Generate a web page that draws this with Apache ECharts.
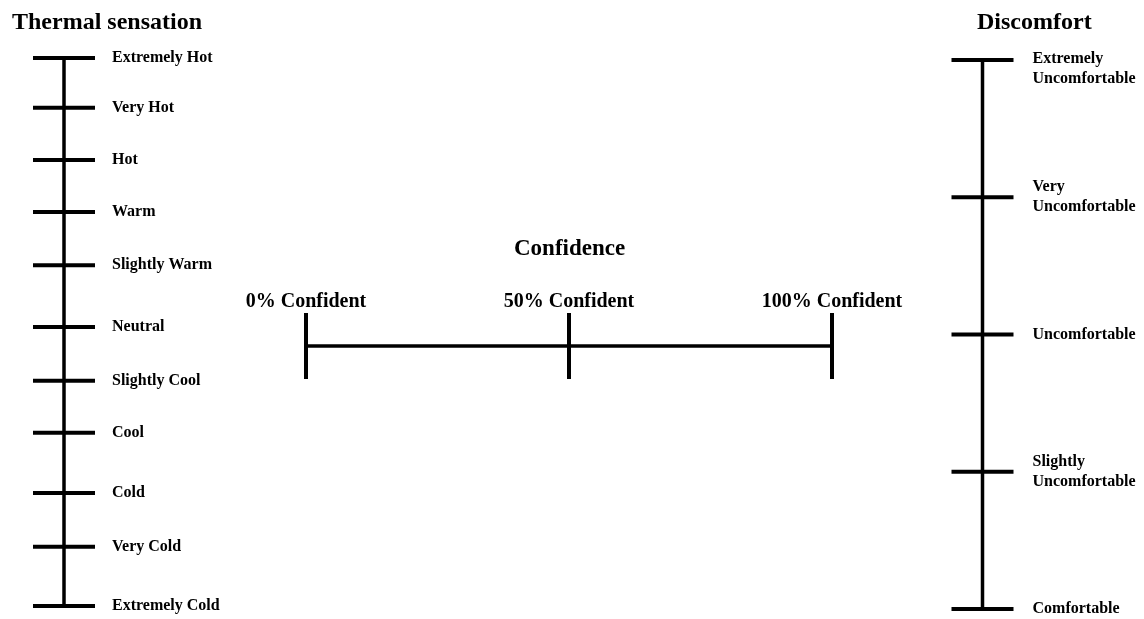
<!DOCTYPE html>
<html>
<head>
<meta charset="utf-8">
<title>Rating scales</title>
<script src="https://cdn.jsdelivr.net/npm/echarts@6/dist/echarts.min.js"></script>
<style>
	html, body { margin: 0; padding: 0; background: #fff; }
	#chart { width: 1144px; height: 619px; }
</style>
</head>
<body>
<div id="chart"></div>
<script>
// Thermal sensation scale, top to bottom (position on the scale: 0 = bottom tick, 100 = top tick)
const thermalLabels = ['Extremely Hot', 'Very Hot', 'Hot', 'Warm', 'Slightly Warm', 'Neutral', 'Slightly Cool', 'Cool', 'Cold', 'Very Cold', 'Extremely Cold']
const thermalValues = [100, 90.9, 81.4, 71.9, 62.2, 50.9, 41.1, 31.6, 20.6, 10.8, 0]

// Confidence scale, left to right
const confidenceLabels = ['0% Confident', '50% Confident', '100% Confident']
const confidenceValues = [0, 50, 100]

// Discomfort scale, top to bottom
const discomfortLabels = ['Extremely\nUncomfortable', 'Very\nUncomfortable', 'Uncomfortable', 'Slightly\nUncomfortable', 'Comfortable']
const discomfortValues = [100, 75, 50, 25, 0]

const FONT = 'Liberation Serif, Times New Roman, serif'
const INK = '#000'

const chart = echarts.init(document.getElementById('chart'))

const textStyle = (size) => ({
	fontFamily: FONT,
	fontWeight: 'bold',
	fontSize: size,
	color: '#000'
})

// vertical scale: one spine + a crossing tick for each level
// topShift pushes the label of the top tick down a bit (two-line label)
const verticalScale = (idx, labels, values, labelDist, topShift) => [
	{
		type: 'line',
		xAxisIndex: idx,
		yAxisIndex: idx,
		data: [[0, Math.min(...values)], [0, Math.max(...values)]],
		showSymbol: false,
		silent: true,
		lineStyle: { color: INK, width: 3.5, opacity: 1 }
	},
	{
		type: 'scatter',
		xAxisIndex: idx,
		yAxisIndex: idx,
		symbol: 'rect',
		symbolSize: [62, 4],
		itemStyle: { color: INK, opacity: 1 },
		data: values.map((v, i) => ({
			name: labels[i],
			value: [0, v],
			label: i === 0 && topShift ? { offset: [0, topShift] } : undefined
		})),
		label: {
			show: true,
			position: 'right',
			distance: labelDist,
			formatter: '{b}',
			lineHeight: 20,
			...textStyle(16)
		}
	}
]

const hidden = { show: false }

const option = {
	animation: false,
	backgroundColor: '#fff',
	title: [
		{ text: 'Thermal sensation', left: 12, top: 11, padding: 0, textStyle: textStyle(24) },
		{ text: 'Confidence', left: 514, top: 238, padding: 0, textStyle: textStyle(23) },
		{ text: 'Discomfort', left: 977, top: 11, padding: 0, textStyle: textStyle(24) }
	],
	grid: [
		{ left: 33, top: 58, width: 62, height: 548 },
		{ left: 306, top: 314, width: 526, height: 64 },
		{ left: 952, top: 60, width: 61, height: 549 }
	],
	xAxis: [
		{ gridIndex: 0, type: 'value', min: -1, max: 1, ...hidden },
		{ gridIndex: 1, type: 'value', min: 0, max: 100, ...hidden },
		{ gridIndex: 2, type: 'value', min: -1, max: 1, ...hidden }
	],
	yAxis: [
		{ gridIndex: 0, type: 'value', min: 0, max: 100, ...hidden },
		{ gridIndex: 1, type: 'value', min: -1, max: 1, ...hidden },
		{ gridIndex: 2, type: 'value', min: 0, max: 100, ...hidden }
	],
	series: [
		...verticalScale(0, thermalLabels, thermalValues, 17),
		{
			type: 'line',
			xAxisIndex: 1,
			yAxisIndex: 1,
			data: [[Math.min(...confidenceValues), 0], [Math.max(...confidenceValues), 0]],
			showSymbol: false,
			silent: true,
			lineStyle: { color: INK, width: 3.5, opacity: 1 }
		},
		{
			type: 'scatter',
			xAxisIndex: 1,
			yAxisIndex: 1,
			symbol: 'rect',
			symbolSize: [4, 66],
			itemStyle: { color: INK, opacity: 1 },
			data: confidenceValues.map((v, i) => ({ name: confidenceLabels[i], value: [v, 0] })),
			label: {
				show: true,
				position: 'top',
				distance: 1,
				formatter: '{b}',
				...textStyle(20)
			}
		},
		...verticalScale(2, discomfortLabels, discomfortValues, 19, 9)
	]
}

chart.setOption(option)
window.addEventListener('resize', () => chart.resize())
</script>
</body>
</html>
